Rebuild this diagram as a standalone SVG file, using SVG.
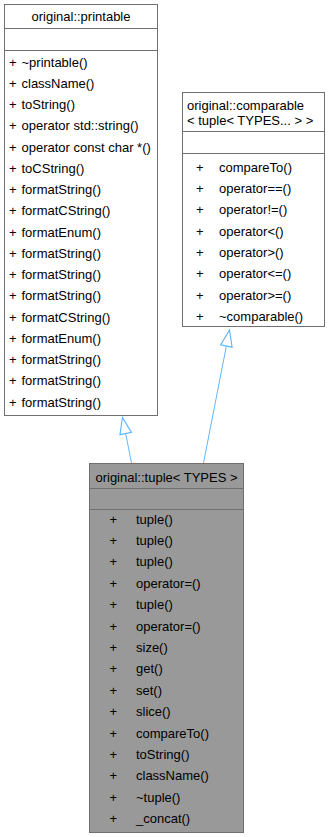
<svg xmlns="http://www.w3.org/2000/svg" width="330" height="837" viewBox="0 0 330 837">
  <style>
    .box { fill: #ffffff; stroke: #707070; stroke-width: 1; }
    .root { fill: #999999; stroke: #707070; stroke-width: 1; }
    .sep { stroke: #707070; stroke-width: 1; fill: none; }
    text { font-family: "Liberation Sans", Arial, sans-serif; font-size: 13px; fill: #000000; }
    .mid { text-anchor: middle; }
    .edge { stroke: #63b8ff; stroke-width: 1; fill: none; marker-end: url(#hollow); }
  </style>
  <defs>
    <marker id="hollow" markerUnits="userSpaceOnUse" markerWidth="20" markerHeight="14" viewBox="-15 -6 16 12" refX="0" refY="0" orient="auto">
      <polygon points="0,0 -14,-5 -14,5" fill="#ffffff" stroke="#63b8ff" stroke-width="1"/>
    </marker>
  </defs>

  <!-- inheritance edges -->
  <g id="edges">
    <path class="edge" d="M131.5,463 L122.5,417.5"/>
    <path class="edge" d="M203.5,463 L229.5,330"/>
  </g>

  <!-- original::printable -->
  <g id="printable">
    <rect class="box" x="4.5" y="4.5" width="153" height="411"/>
    <line class="sep" x1="4.5" y1="28.5" x2="157.5" y2="28.5"/>
    <line class="sep" x1="4.5" y1="50.5" x2="157.5" y2="50.5"/>
    <text class="mid" x="81" y="21">original::printable</text>
    <text x="9" y="66.5">+<tspan x="21.5">~printable()</tspan></text>
    <text x="9" y="87.75">+<tspan x="21.5">className()</tspan></text>
    <text x="9" y="109">+<tspan x="21.5">toString()</tspan></text>
    <text x="9" y="130.25">+<tspan x="21.5">operator std::string()</tspan></text>
    <text x="9" y="151.5">+<tspan x="21.5">operator const char *()</tspan></text>
    <text x="9" y="172.75">+<tspan x="21.5">toCString()</tspan></text>
    <text x="9" y="194">+<tspan x="21.5">formatString()</tspan></text>
    <text x="9" y="215.25">+<tspan x="21.5">formatCString()</tspan></text>
    <text x="9" y="236.5">+<tspan x="21.5">formatEnum()</tspan></text>
    <text x="9" y="257.75">+<tspan x="21.5">formatString()</tspan></text>
    <text x="9" y="279">+<tspan x="21.5">formatString()</tspan></text>
    <text x="9" y="300.25">+<tspan x="21.5">formatString()</tspan></text>
    <text x="9" y="321.5">+<tspan x="21.5">formatCString()</tspan></text>
    <text x="9" y="342.75">+<tspan x="21.5">formatEnum()</tspan></text>
    <text x="9" y="364">+<tspan x="21.5">formatString()</tspan></text>
    <text x="9" y="385.25">+<tspan x="21.5">formatString()</tspan></text>
    <text x="9" y="406.5">+<tspan x="21.5">formatString()</tspan></text>
  </g>

  <!-- original::comparable< tuple< TYPES... > > -->
  <g id="comparable">
    <rect class="box" x="182.5" y="92.5" width="142" height="234"/>
    <line class="sep" x1="182.5" y1="131.5" x2="324.5" y2="131.5"/>
    <line class="sep" x1="182.5" y1="153.5" x2="324.5" y2="153.5"/>
    <text x="187" y="109.5">original::comparable</text>
    <text x="187" y="124.5">&lt; tuple&lt; TYPES... &gt; &gt;</text>
    <text x="196" y="171.8">+<tspan x="219">compareTo()</tspan></text>
    <text x="196" y="193.1">+<tspan x="219">operator==()</tspan></text>
    <text x="196" y="214.4">+<tspan x="219">operator!=()</tspan></text>
    <text x="196" y="235.7">+<tspan x="219">operator&lt;()</tspan></text>
    <text x="196" y="257">+<tspan x="219">operator&gt;()</tspan></text>
    <text x="196" y="278.3">+<tspan x="219">operator&lt;=()</tspan></text>
    <text x="196" y="299.6">+<tspan x="219">operator&gt;=()</tspan></text>
    <text x="196" y="320.9">+<tspan x="219">~comparable()</tspan></text>
  </g>

  <!-- original::tuple< TYPES > -->
  <g id="tuple">
    <rect class="root" x="89.5" y="463.5" width="154" height="369"/>
    <line class="sep" x1="89.5" y1="488.5" x2="243.5" y2="488.5"/>
    <line class="sep" x1="89.5" y1="509.5" x2="243.5" y2="509.5"/>
    <text class="mid" x="166.5" y="481.8">original::tuple&lt; TYPES &gt;</text>
    <text x="109.5" y="523.5">+<tspan x="136">tuple()</tspan></text>
    <text x="109.5" y="544.9">+<tspan x="136">tuple()</tspan></text>
    <text x="109.5" y="566.3">+<tspan x="136">tuple()</tspan></text>
    <text x="109.5" y="587.7">+<tspan x="136">operator=()</tspan></text>
    <text x="109.5" y="609.1">+<tspan x="136">tuple()</tspan></text>
    <text x="109.5" y="630.5">+<tspan x="136">operator=()</tspan></text>
    <text x="109.5" y="651.9">+<tspan x="136">size()</tspan></text>
    <text x="109.5" y="673.3">+<tspan x="136">get()</tspan></text>
    <text x="109.5" y="694.7">+<tspan x="136">set()</tspan></text>
    <text x="109.5" y="716.1">+<tspan x="136">slice()</tspan></text>
    <text x="109.5" y="737.5">+<tspan x="136">compareTo()</tspan></text>
    <text x="109.5" y="758.9">+<tspan x="136">toString()</tspan></text>
    <text x="109.5" y="780.3">+<tspan x="136">className()</tspan></text>
    <text x="109.5" y="801.7">+<tspan x="136">~tuple()</tspan></text>
    <text x="109.5" y="823.1">+<tspan x="136">_concat()</tspan></text>
  </g>
</svg>
